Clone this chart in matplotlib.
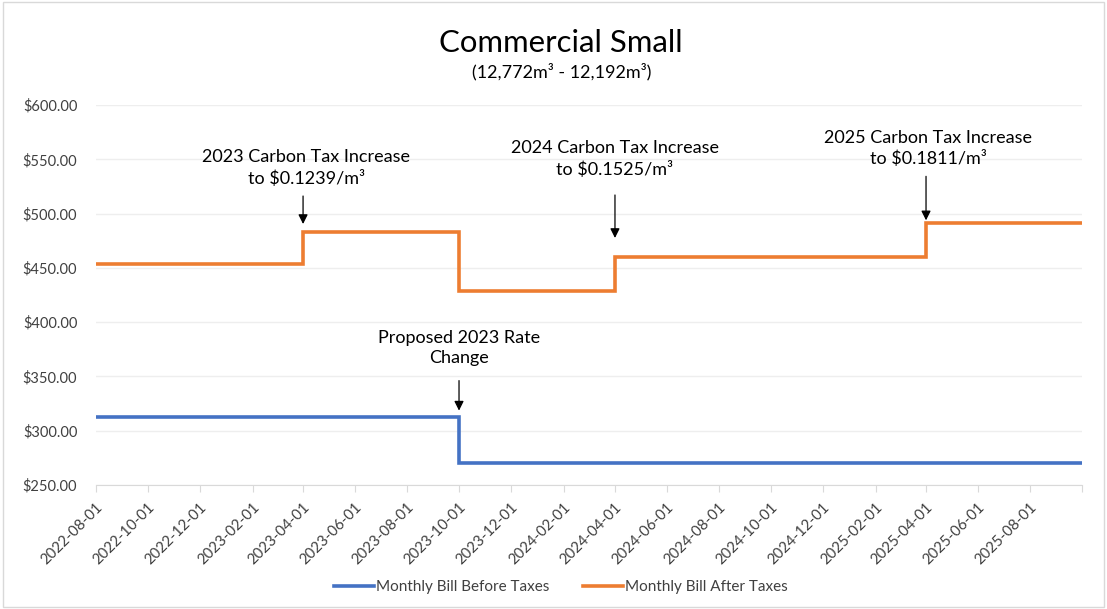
import numpy as np
import pandas as pd
import matplotlib
matplotlib.use("Agg")
import matplotlib.pyplot as plt

plt.rcParams['font.family'] = ['Lato', 'DejaVu Sans']

# step series: value holds from each date until the next one
before_dates = ["2022-08-01", "2023-10-01", "2025-10-01"]
before_values = [313.0, 270.5, 270.5]
after_dates = ["2022-08-01", "2023-04-01", "2023-10-01", "2024-04-01", "2025-04-01", "2025-10-01"]
after_values = [454.0, 483.0, 429.0, 460.0, 491.0, 491.0]

notes = [
    ("2023 Carbon Tax Increase\nto $0.1239/m³", "2023-04-01", 483.0),
    ("2024 Carbon Tax Increase\nto $0.1525/m³", "2024-04-01", 460.0),
    ("2025 Carbon Tax Increase\nto $0.1811/m³", "2025-04-01", 491.0),
    ("Proposed 2023 Rate\nChange", "2023-10-01", 313.0),
]

blue = "#4472C4"
orange = "#ED7D31"

fig = plt.figure(figsize=(11.07, 6.09), dpi=100)
ax = fig.add_axes([0.0867, 0.2036, 0.8907, 0.624])

bd = pd.to_datetime(before_dates)
ad = pd.to_datetime(after_dates)
ax.plot(bd, before_values, drawstyle="steps-post", color=blue, lw=2.6,
        label="Monthly Bill Before Taxes", solid_joinstyle="miter")
ax.plot(ad, after_values, drawstyle="steps-post", color=orange, lw=2.6,
        label="Monthly Bill After Taxes", solid_joinstyle="miter")

ax.set_ylim(250, 600)
ax.set_yticks(np.arange(250, 601, 50))
ax.set_yticklabels([f"${v:.2f}" for v in np.arange(250, 601, 50)])
ax.set_xlim(pd.Timestamp("2022-08-01"), pd.Timestamp("2025-10-01"))

ticks = pd.date_range("2022-08-01", "2025-10-01", freq="2MS")
ax.set_xticks(ticks)
labels = [t.strftime("%Y-%m-%d") for t in ticks]
labels[-1] = ""
ax.set_xticklabels(labels, rotation=45, ha="right", va="top", rotation_mode="anchor")

ax.grid(axis="y", color="#eeeeee", lw=1)
ax.set_axisbelow(True)
for s in ["top", "right", "left"]:
    ax.spines[s].set_visible(False)
ax.spines["bottom"].set_color("#d9d9d9")
ax.tick_params(axis="x", length=5, color="#d9d9d9", labelsize=10.8, labelcolor="#404040", pad=6)
ax.tick_params(axis="y", length=0, labelsize=10.5, labelcolor="#404040", pad=13.5)

# arrows + text (pixel offsets above the line: arrow tail, arrow tip, text centre, text dx)
offsets = [(36, 8, 64, 3), (62, 19, 98, 0), (47, 3, 75, 2), (36, 6, 69, 0)]
for (txt, d, y), (tail, tip, tc, dx) in zip(notes, offsets):
    x = pd.Timestamp(d)
    ax.annotate("", xy=(x, y), xytext=(0, tail), textcoords="offset pixels",
                arrowprops=dict(arrowstyle="-|>", color="black", lw=0.9,
                                mutation_scale=14, shrinkA=0, shrinkB=tip / 1.389))
    ax.annotate(txt, xy=(x, y), xytext=(dx, tc), textcoords="offset pixels",
                ha="center", va="center", fontsize=13, color="black",
                linespacing=1.3)

fig.text(0.507, 0.929, "Commercial Small", ha="center", va="center", fontsize=22.4)
fig.text(0.507, 0.882, "(12,772m³ - 12,192m³)", ha="center", va="center", fontsize=13)

leg = fig.legend(loc="center", bbox_to_anchor=(0.507, 0.036), ncol=2, frameon=False,
                 fontsize=11, handlelength=2.6, handletextpad=0.15, columnspacing=2.2)
for t in leg.get_texts():
    t.set_color("#404040")

fig.patches.append(plt.Rectangle((0.003, 0.003), 0.994, 0.994, transform=fig.transFigure,
                                 fill=False, edgecolor="#d9d9d9", lw=1))

fig.savefig("out.png", dpi=100)
